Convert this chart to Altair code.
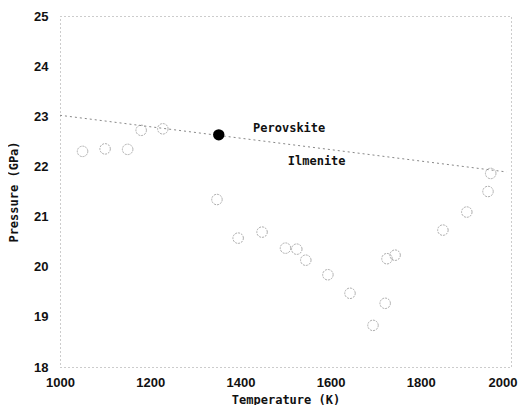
import altair as alt
import pandas as pd

# open circles: temperature (K), pressure (GPa)
open_T = [1050, 1100, 1150, 1180, 1228, 1348, 1395, 1448, 1500, 1525, 1545,
          1594, 1643, 1694, 1721, 1725, 1743, 1849, 1902, 1949, 1955]
open_P = [22.30, 22.35, 22.34, 22.72, 22.75, 21.34, 20.57, 20.69, 20.37, 20.35, 20.13,
          19.84, 19.47, 18.83, 19.27, 20.16, 20.23, 20.73, 21.09, 21.50, 21.86]

# filled circle
fill_T = [1352]
fill_P = [22.63]

# phase boundary line
line_T = [1000, 1990]
line_P = [23.02, 21.89]

# labels
lab_text = ["Perovskite", "Ilmenite"]
lab_T = [1428, 1505]
lab_P = [22.76, 22.11]

x_ticks = [1000, 1200, 1400, 1600, 1800, 2000]
y_ticks = [18, 19, 20, 21, 22, 23, 24, 25]

df_open = pd.DataFrame({"T": open_T, "P": open_P})
df_fill = pd.DataFrame({"T": fill_T, "P": fill_P})
df_line = pd.DataFrame({"T": line_T, "P": line_P})
df_lab = pd.DataFrame({"text": lab_text, "T": lab_T, "P": lab_P})

xs = alt.Scale(domain=[1000, 2000], nice=False, zero=False)
ys = alt.Scale(domain=[18, 25], nice=False, zero=False)

xax = alt.Axis(values=x_ticks, format="d", grid=False, domain=False, ticks=False,
               labelFont="Liberation Sans", labelFontSize=13, labelFontWeight="bold",
               labelColor="#111", labelPadding=9, labelFlush=False,
               labelAlign={"condition": {"test": "datum.value == 2000", "value": "right"},
                           "value": "center"},
               labelOffset={"condition": {"test": "datum.value == 2000", "value": 6},
                            "value": 0},
               title="Temperature (K)", titleFont="DejaVu Sans Mono", titleFontSize=12,
               titleFontWeight="bold", titleColor="#111", titlePadding=5)
yax = alt.Axis(values=y_ticks, format="d", grid=False, domain=False, ticks=False,
               labelFont="Liberation Sans", labelFontSize=13, labelFontWeight="bold",
               labelColor="#111", labelPadding=12,
               title="Pressure (GPa)", titleFont="DejaVu Sans Mono", titleFontSize=12,
               titleFontWeight="bold", titleColor="#111", titlePadding=13)

X = alt.X("T:Q", scale=xs, axis=xax)
Y = alt.Y("P:Q", scale=ys, axis=yax)

line = alt.Chart(df_line).mark_line(color="#888", strokeWidth=1, strokeDash=[2, 3]).encode(
    x=X, y=Y)

opens = alt.Chart(df_open).mark_point(shape="circle", size=110, color="#8a8a8a",
                                      strokeWidth=1, strokeDash=[2, 1], filled=False).encode(
    x=X, y=Y)

fill = alt.Chart(df_fill).mark_point(shape="circle", size=130, color="black",
                                     filled=True, opacity=1).encode(x=X, y=Y)

labels = alt.Chart(df_lab).mark_text(align="left", baseline="middle",
                                     font="DejaVu Sans Mono", fontSize=12,
                                     fontWeight="bold", color="#111").encode(
    x=X, y=Y, text="text:N")

chart = alt.layer(line, opens, fill, labels).properties(
    width=451, height=351,
    autosize=alt.AutoSizeParams(type="none"),
    padding={"left": 52, "top": 8, "right": 7, "bottom": 38},
    background="white",
).configure_view(stroke="#999", strokeWidth=1, strokeDash=[1, 3])

chart.save("out.html", embed_options={"renderer": "svg", "actions": False})
